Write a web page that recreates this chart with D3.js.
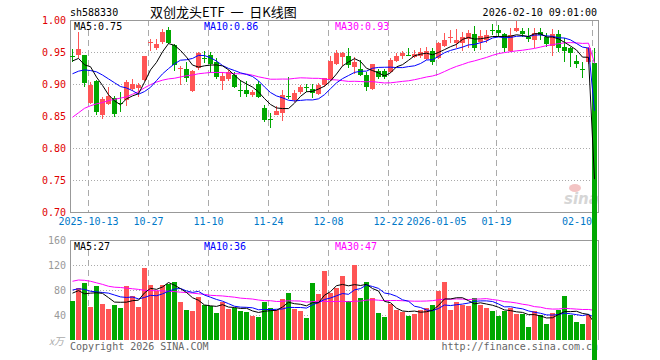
<!DOCTYPE html>
<html>
<head>
<meta charset="utf-8">
<script src="https://cdn.jsdelivr.net/npm/d3@7"></script>
<style>
body { margin: 0; background: #fff; }
svg { display: block; }
</style>
</head>
<body>
<svg></svg>
<script>
// daily candles, 2025-09-30 .. 2026-02-10 (88 trading days)
var opens = [.944,.946,.945,.870,.905,.852,.868,.878,.870,.875,
  .892,.894,.906,.964,.956,.965,.984,.961,.924,.924,
  .889,.925,.940,.946,.935,.904,.908,.914,.890,.891,
  .883,.900,.863,.846,.852,.855,.881,.875,.887,.895,
  .892,.884,.898,.906,.931,.942,.944,.926,.923,.914,
  .892,.920,.920,.918,.9365,.943,.946,.942,.943,.939,
  .951,.940,.960,.972,.964,.964,.970,.978,.966,.969,
  .985,.984,.978,.9516,.983,.983,.974,.969,.981,.974,
  .960,.978,.958,.957,.936,.923,.934,.933];
var highs = [.954,.982,.946,.903,.906,.880,.895,.882,.887,.907,
  .908,.902,.944,.970,.970,.986,.989,.963,.928,.934,
  .922,.950,.952,.950,.940,.919,.922,.918,.906,.904,
  .891,.904,.867,.854,.866,.890,.911,.890,.898,.900,
  .900,.901,.910,.944,.953,.950,.956,.942,.937,.918,
  .932,.924,.923,.940,.948,.951,.957,.953,.956,.958,
  .956,.966,.979,.984,.986,.982,.984,.990,.984,.984,
  .993,.992,.979,.987,.998,.988,.988,.988,.987,.979,
  .986,.984,.972,.958,.946,.935,.958,.956];
var lows = [.934,.941,.895,.868,.851,.845,.867,.848,.857,.865,
  .889,.880,.905,.951,.953,.963,.962,.920,.898,.903,
  .887,.922,.933,.917,.908,.891,.904,.893,.880,.879,
  .880,.878,.840,.832,.851,.842,.877,.872,.885,.887,
  .878,.883,.896,.904,.929,.928,.925,.916,.912,.889,
  .891,.908,.908,.917,.935,.939,.943,.940,.940,.9375,
  .930,.939,.958,.9635,.956,.9516,.956,.9516,.953,.9635,
  .9766,.974,.9495,.9505,.982,.974,.965,.9557,.969,.958,
  .944,.9505,.935,.927,.9245,.909,.932,0];
var closes = [.942,.955,.901,.899,.857,.877,.882,.853,.869,.903,
  .900,.899,.943,.965,.962,.982,.964,.929,.925,.910,
  .920,.948,.939,.931,.911,.9125,.918,.896,.889,.885,
  .888,.880,.844,.843,.858,.883,.880,.8865,.896,.894,
  .886,.898,.909,.936,.949,.949,.929,.935,.914,.896,
  .931,.911,.9115,.9375,.943,.948,.945,.947,.950,.951,
  .935,.9635,.969,.973,.969,.974,.979,.956,.9755,.9765,
  .984,.979,.957,.9766,.988,.978,.971,.979,.977,.962,
  .9776,.957,.952,.948,.931,.922,.9557,0];
// volume, 万手
var volumes = [62.7,84,92,53.6,85.7,57.9,49.8,56.3,52,86.8,
  69.7,53.6,114.7,88.4,78.8,88.4,89.5,93.2,61,48,
  46.6,69,55.7,54.1,43.4,60.6,49.8,52,46.6,45,
  39.1,37.5,61.6,51.4,47.7,65.9,75.6,49.8,46.6,35.4,
  91.7,73.9,110.9,75,83,101.8,62.7,120.6,68,92.2,
  68,43.4,37.5,57.3,48.2,45.5,39.1,41.3,48.2,52,
  56.3,79,93,48.2,61.6,56.3,55.2,68,56.3,52,
  46.6,39.1,46.6,50.9,42.3,41.8,21.4,46.6,40.2,26.3,
  43.4,47.7,69.7,40,29,26,40,0];

// moving-average values before a full window exists
var ma5Lead = [.936,.940,.930,.927];
var ma10Lead = [.916,.920,.922,.921,.919,.914,.908,.902,.896];
var ma30Lead = [.848,.855,.862,.866,.869,.871,.874,.876,.878,.880,
  .884,.888,.894,.899,.903,.906,.908,.909,.911,.913,
  .914,.916,.917,.918,.918,.918,.917,.916,.916];
var volMa5Lead = [75,79,74,75];
var volMa10Lead = [80,82,81,78,77,76,75,72,69];
var volMa30Lead = [94,96,95.5,94,91.5,89,86,84.5,84,83,
  82,81,79.5,79,79,78.5,78,77.5,76.5,76,
  75,74,73,71.5,71,70.5,69.5,68.5,67];

var tickIdx = [3,13,23,33,43,53,61,71,87];
var tickLabels = ["2025-10-13","10-27","11-10","11-24","12-08","12-22","2026-01-05","01-19","02-10"];
var priceTicks = [1.00,0.95,0.90,0.85,0.80,0.75,0.70];
var volTicks = [160,120,80,40];

var n = closes.length;
var left = 70, right = 598;
var mono = "DejaVu Sans Mono, monospace";
var red = "#ff5555", green = "#00a800";

var svg = d3.select("svg").attr("width", 660).attr("height", 360);

var x = d3.scaleBand().domain(d3.range(n)).range([left, right]);
var y = d3.scaleLinear().domain([0.70, 1.00]).range([212, 20]);
var yv = d3.scaleLinear().domain([0, 160]).range([340, 240]);

function movingAvg(vals, k, lead)
{
  return vals.map(function(v, i) {
    if (i < k - 1) return lead[i];
    return d3.mean(vals.slice(i - k + 1, i + 1));
  });
}

var ma5 = movingAvg(closes, 5, ma5Lead);
var ma10 = movingAvg(closes, 10, ma10Lead);
var ma30 = movingAvg(closes, 30, ma30Lead);
var vma5 = movingAvg(volumes, 5, volMa5Lead);
var vma10 = movingAvg(volumes, 10, volMa10Lead);
var vma30 = movingAvg(volumes, 30, volMa30Lead);

// header
svg.append("text").text("sh588330")
  .attr("x", 70).attr("y", 16)
  .attr("font-family", mono).attr("font-size", "10px").attr("fill", "#000");
svg.append("text").text("双创龙头ETF\u00a0\u00a0一\u00a0\u00a0日K线图")
  .attr("x", 150).attr("y", 17)
  .attr("font-family", "Noto Sans CJK SC, sans-serif").attr("font-size", "13px").attr("fill", "#000");
svg.append("text").text("2026-02-10 09:01:00")
  .attr("x", 597).attr("y", 16).attr("text-anchor", "end")
  .attr("font-family", mono).attr("font-size", "10px").attr("fill", "#000");

// grid
var grid = svg.append("g").attr("shape-rendering", "crispEdges");
grid.selectAll("line.hp")
  .data(priceTicks.slice(1, -1))
  .enter().append("line")
  .attr("x1", left).attr("x2", right)
  .attr("y1", function(d) { return Math.round(y(d)) + 0.5; })
  .attr("y2", function(d) { return Math.round(y(d)) + 0.5; })
  .attr("stroke", "#aaa").attr("stroke-dasharray", "1,2");
grid.selectAll("line.hv")
  .data(volTicks.slice(1))
  .enter().append("line")
  .attr("x1", left).attr("x2", right)
  .attr("y1", function(d) { return Math.round(yv(d)) + 0.5; })
  .attr("y2", function(d) { return Math.round(yv(d)) + 0.5; })
  .attr("stroke", "#aaa").attr("stroke-dasharray", "1,2");
[[20, 212], [240, 340]].forEach(function(r) {
  grid.selectAll(null)
    .data(tickIdx)
    .enter().append("line")
    .attr("x1", function(d) { return x(d) + 0.5; })
    .attr("x2", function(d) { return x(d) + 0.5; })
    .attr("y1", r[0]).attr("y2", r[1])
    .attr("stroke", "#aaa").attr("stroke-width", 1.5)
    .attr("stroke-dasharray", "6,4");
});

// frames
var frame = svg.append("g").attr("stroke", "#999").attr("fill", "none").attr("shape-rendering", "crispEdges");
frame.append("rect").attr("x", left + 0.5).attr("y", 20.5).attr("width", right - left).attr("height", 192);
frame.append("path").attr("d", "M" + (left + 0.5) + ",340V240.5H" + (right + 0.5) + "V340");

// axis labels
svg.selectAll("text.py")
  .data(priceTicks)
  .enter().append("text")
  .text(function(d) { return d.toFixed(2); })
  .attr("x", 66).attr("y", function(d) { return y(d) + 4; })
  .attr("text-anchor", "end")
  .attr("font-family", mono).attr("font-size", "10px").attr("fill", "#e00000");
svg.selectAll("text.vy")
  .data(volTicks)
  .enter().append("text")
  .text(function(d) { return d; })
  .attr("x", 66).attr("y", function(d) { return yv(d) + 4; })
  .attr("text-anchor", "end")
  .attr("font-family", mono).attr("font-size", "10px").attr("fill", "#999");
svg.append("text").text("x万")
  .attr("x", 64).attr("y", 345).attr("text-anchor", "end")
  .attr("font-family", "Noto Sans CJK SC, sans-serif").attr("font-style", "italic")
  .attr("font-size", "10px").attr("fill", "#aaa");
svg.selectAll("text.xl")
  .data(tickIdx)
  .enter().append("text")
  .text(function(d, i) { return tickLabels[i]; })
  .attr("x", function(d, i) { return i == tickIdx.length - 1 ? x(d) : x(d) + 0.5; })
  .attr("y", 225)
  .attr("text-anchor", function(d, i) { return i == tickIdx.length - 1 ? "end" : "middle"; })
  .attr("font-family", mono).attr("font-size", "10px").attr("fill", "#0078c8");

// footer
svg.append("text").text("Copyright 2026 SINA.COM")
  .attr("x", 70).attr("y", 350)
  .attr("font-family", mono).attr("font-size", "10px").attr("fill", "#666");
svg.append("text").text("http://finance.sina.com.cn")
  .attr("x", 598).attr("y", 350).attr("text-anchor", "end")
  .attr("font-family", mono).attr("font-size", "10px").attr("fill", "#666");

// watermark
svg.append("ellipse").attr("cx", 575).attr("cy", 188).attr("rx", 6).attr("ry", 4).attr("fill", "#f3c4c4");
svg.append("text").text("sina")
  .attr("x", 564).attr("y", 204)
  .attr("font-family", "DejaVu Sans, sans-serif").attr("font-weight", "bold").attr("font-style", "italic")
  .attr("font-size", "15px").attr("fill", "#d6d6d6");

// MA legend texts
function legend(yy, items)
{
  items.forEach(function(it) {
    svg.append("text").text(it[0])
      .attr("x", it[1]).attr("y", yy)
      .attr("font-family", mono).attr("font-size", "10px").attr("fill", it[2]);
  });
}
legend(30, [
  ["MA5:" + ma5[n - 1].toFixed(2), 74, "#000"],
  ["MA10:" + ma10[n - 1].toFixed(2), 204, "#0000ff"],
  ["MA30:" + ma30[n - 1].toFixed(2), 335, "#ff00ff"]
]);
legend(250, [
  ["MA5:" + Math.round(vma5[n - 1]), 74, "#000"],
  ["MA10:" + Math.round(vma10[n - 1]), 204, "#0000ff"],
  ["MA30:" + Math.round(vma30[n - 1]), 335, "#ff00ff"]
]);

// volume bars
svg.append("g").attr("shape-rendering", "crispEdges")
  .selectAll("rect")
  .data(volumes)
  .enter().append("rect")
  .attr("x", function(d, i) { return x(i); })
  .attr("y", function(d) { return yv(d); })
  .attr("width", x.bandwidth() - 1)
  .attr("height", function(d) { return yv(0) - yv(d); })
  .attr("fill", function(d, i) { return closes[i] >= opens[i] ? red : green; });

// volume MAs
var vline = d3.line()
  .x(function(d, i) { return x(i) + 2.5; })
  .y(function(d) { return yv(d); });
[[vma30, "#ff00ff"], [vma10, "#0000ff"], [vma5, "#000"]].forEach(function(s) {
  svg.append("path").attr("d", vline(s[0]))
    .attr("fill", "none").attr("stroke", s[1]).attr("stroke-width", 1);
});

// candles
var candles = svg.append("g").attr("shape-rendering", "crispEdges")
  .selectAll("g")
  .data(d3.range(n))
  .enter().append("g")
  .attr("fill", function(i) { return closes[i] >= opens[i] ? red : green; });
candles.append("rect")
  .attr("x", function(i) { return x(i) + 2; })
  .attr("y", function(i) { return y(highs[i]); })
  .attr("width", 1)
  .attr("height", function(i) { return y(lows[i]) - y(highs[i]); });
candles.append("rect")
  .attr("x", function(i) { return x(i); })
  .attr("y", function(i) { return y(Math.max(opens[i], closes[i])); })
  .attr("width", x.bandwidth() - 1)
  .attr("height", function(i) { return Math.max(1, Math.abs(y(opens[i]) - y(closes[i]))); });

// price MAs
var line = d3.line()
  .x(function(d, i) { return x(i) + 2.5; })
  .y(function(d) { return y(d); });
[[ma30, "#ff00ff"], [ma10, "#0000ff"], [ma5, "#000"]].forEach(function(s) {
  svg.append("path").attr("d", line(s[0]))
    .attr("fill", "none").attr("stroke", s[1]).attr("stroke-width", 1);
});
</script>
</body>
</html>
